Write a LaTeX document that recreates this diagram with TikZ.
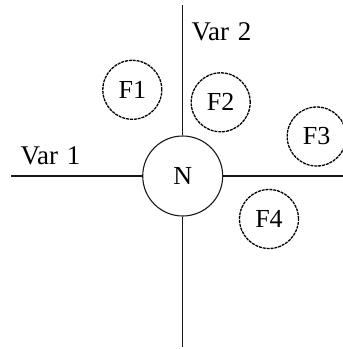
\documentclass[tikz,border=0pt]{standalone}
\usepackage{fontspec}
\setmainfont{Liberation Serif}
\begin{document}
\begin{tikzpicture}[x=1pt,y=-1pt,
  ink/.style={draw=black!90, line width=1.1pt},
  fcirc/.style={ink, line width=1.3pt, draw=black, circle, dash pattern=on 3pt off 0.9pt, minimum size=59pt, inner sep=0pt, font=\fontsize{26}{30}\selectfont},
  ncirc/.style={ink, circle, minimum size=80pt, inner sep=0pt, font=\fontsize{26}{30}\selectfont},
  lab/.style={font=\fontsize{27}{31}\selectfont, inner sep=0pt}]
\useasboundingbox (0,0) rectangle (343,349);
\node[ncirc] (N) at (182.7,176) {N};
\coordinate (top) at (182.7,5);
\coordinate (bot) at (182.7,347);
\coordinate (left) at (11,176);
\coordinate (right) at (343,176);
\draw[ink] (top) -- (N.north);
\draw[ink] (N.south) -- (bot);
\draw[ink] (left) -- (N.west);
\draw[ink] (N.east) -- (right);
\node[fcirc] (F1) at (132.3,89.8) {F1};
\node[fcirc] (F2) at (220.7,102.3) {F2};
\node[fcirc] (F3) at (316.7,136.5) {F3};
\node[fcirc] (F4) at (269,219) {F4};
\node[lab, anchor=base west] (v2) at (191.5,40) {Var\hspace{2pt} 2};
\node[lab, anchor=base west] (v1) at (20.5,164) {Var\hspace{2pt} 1};
\end{tikzpicture}
\end{document}
